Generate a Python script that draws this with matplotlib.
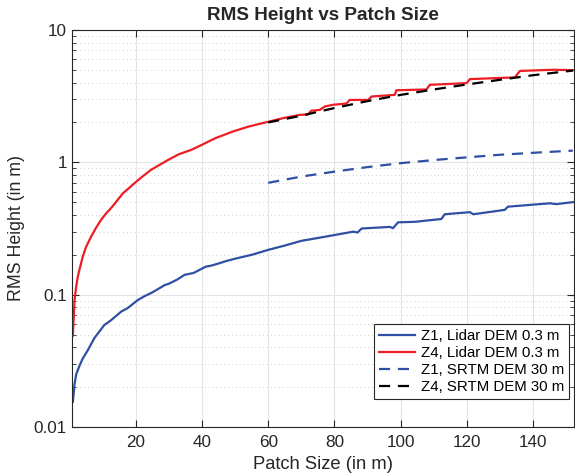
import matplotlib
matplotlib.use("Agg")
import matplotlib.pyplot as plt
from matplotlib.ticker import LogLocator, NullFormatter, FixedLocator

plt.rcParams["font.family"] = ["Liberation Sans", "DejaVu Sans"]

# Z1, Lidar DEM 0.3 m
z1_lidar_x = [1, 1.5, 2, 3, 4, 5.5, 7.5, 10.5, 12.5, 15.6, 17.5, 20.6, 22.5,
              25, 28.7, 30, 32.5, 34.7, 37.5, 41.2, 42.5, 45, 47.5, 50, 55,
              60, 65, 70, 75, 78.6, 85.6, 87, 88.2, 96.7, 97.7, 99.2, 104.3,
              112.3, 113.3, 120.9, 121.9, 131.4, 132.4, 145, 147, 152]
z1_lidar_y = [0.0155, 0.021, 0.025, 0.029, 0.033, 0.038, 0.047, 0.059, 0.064,
              0.0745, 0.079, 0.091, 0.097, 0.104, 0.118, 0.121, 0.13, 0.141,
              0.146, 0.163, 0.165, 0.172, 0.18, 0.187, 0.2, 0.218, 0.235,
              0.255, 0.268, 0.278, 0.299, 0.295, 0.316, 0.325, 0.318, 0.352,
              0.355, 0.373, 0.405, 0.42, 0.405, 0.437, 0.462, 0.49, 0.483, 0.50]

# Z4, Lidar DEM 0.3 m
z4_lidar_x = [1, 1.5, 2, 2.5, 3, 4, 5, 6.5, 8, 9.5, 11, 12.5, 14, 16.1, 18,
              19.6, 22, 24.6, 27, 29.7, 33, 36.7, 39.3, 44, 49.4, 54, 59.5,
              65, 69.5, 72, 73, 75.6, 77.1, 79.6, 83.6, 84.6, 90.2, 91.2, 98.2,
              98.7, 107.8, 108.8, 119.9, 120.9, 134.5, 136, 146, 152]
z4_lidar_y = [0.049, 0.091, 0.115, 0.137, 0.155, 0.194, 0.23, 0.274, 0.32,
              0.367, 0.41, 0.45, 0.50, 0.583, 0.64, 0.695, 0.78, 0.877, 0.95,
              1.04, 1.15, 1.24, 1.33, 1.52, 1.71, 1.86, 2.01, 2.17, 2.28, 2.3,
              2.45, 2.49, 2.64, 2.72, 2.78, 2.96, 2.96, 3.14, 3.23, 3.5, 3.55,
              3.85, 3.96, 4.25, 4.38, 4.9, 5.0, 4.97]

# SRTM DEM 30 m
srtm_x = [60, 70, 80, 90, 100, 110, 120, 130, 140, 152]
z1_srtm_y = [0.70, 0.78, 0.85, 0.92, 0.985, 1.04, 1.09, 1.14, 1.18, 1.225]
z4_srtm_y = [2.0, 2.25, 2.57, 2.9, 3.23, 3.55, 3.87, 4.2, 4.55, 4.93]

blue = "#2f4fa2"
red = "#ee1c24"
ink = "#262626"

fig = plt.figure(figsize=(5.75, 4.75), dpi=100)
ax = fig.add_axes([0.125, 0.101, 0.873, 0.836])

ax.plot(z1_lidar_x, z1_lidar_y, color=blue, lw=1.6, label="Z1, Lidar DEM 0.3 m")
ax.plot(z4_lidar_x, z4_lidar_y, color=red, lw=1.6, label="Z4, Lidar DEM 0.3 m")
ax.plot(srtm_x, z1_srtm_y, color=blue, lw=1.6, dashes=(5, 3.5),
        label="Z1, SRTM DEM 30 m")
ax.plot(srtm_x, z4_srtm_y, color="black", lw=1.6, dashes=(5, 3.5),
        label="Z4, SRTM DEM 30 m")

ax.set_yscale("log")
ax.set_xlim(0.7, 152.3)
ax.set_ylim(0.01, 10)
ax.xaxis.set_major_locator(FixedLocator([20, 40, 60, 80, 100, 120, 140]))
ax.yaxis.set_minor_locator(LogLocator(base=10, subs=range(2, 10), numticks=20))
ax.yaxis.set_minor_formatter(NullFormatter())
ax.set_yticks([0.01, 0.1, 1, 10])
ax.set_yticklabels(["0.01", "0.1", "1", "10"])

ax.grid(True, which="major", color="#e4e4e4", lw=0.8)
ax.grid(True, which="minor", axis="y", color="#cfcfcf", lw=0.7, linestyle=(0, (1, 3)))
ax.set_axisbelow(True)

ax.tick_params(which="both", direction="in", top=True, right=True,
               colors=ink, labelsize=12.3)
ax.tick_params(which="major", length=5)
ax.tick_params(which="minor", length=3)
ax.tick_params(axis="x", pad=6)
for spine in ax.spines.values():
    spine.set_color(ink)
    spine.set_linewidth(0.8)

ax.set_xlabel("Patch Size (in m)", fontsize=13.2, color=ink, labelpad=4)
ax.set_ylabel("RMS Height (in m)", fontsize=12.8, color=ink, labelpad=6)
ax.set_title("RMS Height vs Patch Size", fontsize=13.6, fontweight="bold",
             color=ink, pad=7)

leg = ax.legend(loc="lower right", bbox_to_anchor=(0.991, 0.07), fontsize=10.8,
                fancybox=False, edgecolor=ink, framealpha=1,
                handlelength=2.4, handletextpad=0.4, borderpad=0.35,
                labelspacing=0.2, borderaxespad=0)
leg.get_frame().set_linewidth(0.8)

fig.savefig("out.png", dpi=100)
